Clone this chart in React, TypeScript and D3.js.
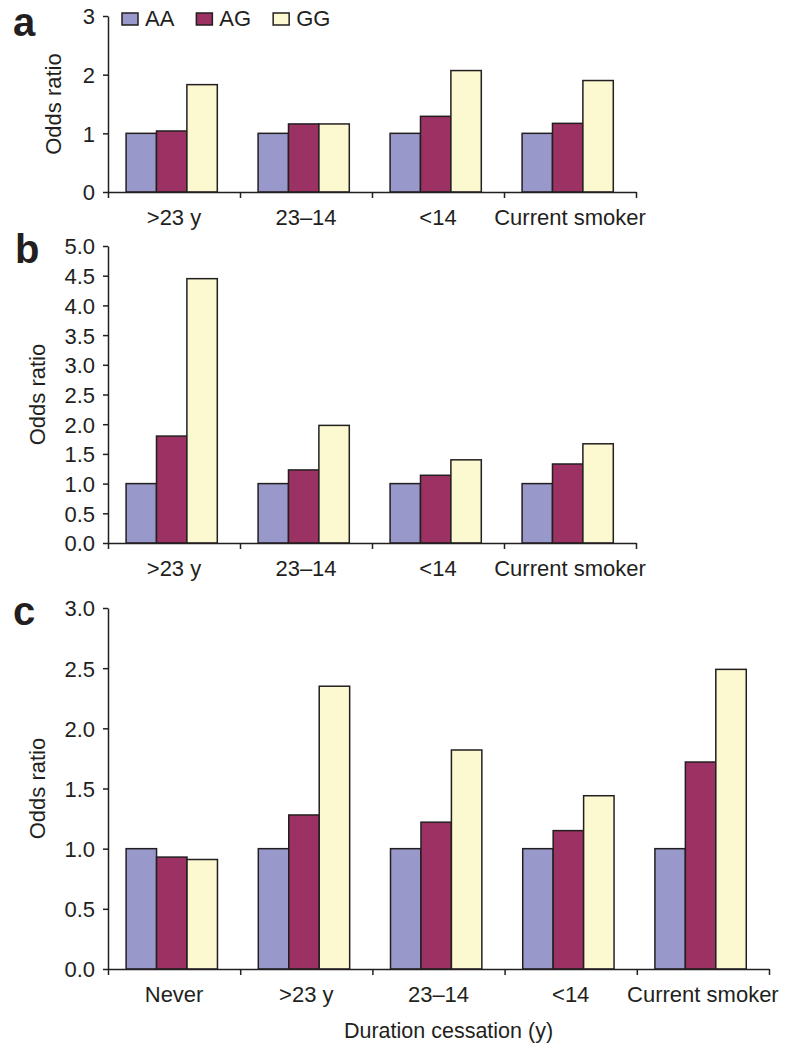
import { useEffect, useRef } from 'react';
import * as d3 from 'd3';

const SERIES = ['AA', 'AG', 'GG'];
const COLORS = ['#9898cb', '#9c3163', '#fcf8cf'];

// panel a
const CATS_A = ['>23 y', '23–14', '<14', 'Current smoker'];
const AA_A = [1.0, 1.0, 1.0, 1.0];
const AG_A = [1.04, 1.16, 1.29, 1.17];
const GG_A = [1.83, 1.16, 2.07, 1.9];
const TICKS_A = [0, 1, 2, 3];

// panel b
const CATS_B = ['>23 y', '23–14', '<14', 'Current smoker'];
const AA_B = [1.0, 1.0, 1.0, 1.0];
const AG_B = [1.8, 1.23, 1.14, 1.33];
const GG_B = [4.45, 1.98, 1.4, 1.67];
const TICKS_B = [0, 0.5, 1, 1.5, 2, 2.5, 3, 3.5, 4, 4.5, 5];

// panel c
const CATS_C = ['Never', '>23 y', '23–14', '<14', 'Current smoker'];
const AA_C = [1.0, 1.0, 1.0, 1.0, 1.0];
const AG_C = [0.93, 1.28, 1.22, 1.15, 1.72];
const GG_C = [0.91, 2.35, 1.82, 1.44, 2.49];
const TICKS_C = [0, 0.5, 1, 1.5, 2, 2.5, 3];

const WIDTH = 797;
const HEIGHT = 1050;
const INK = '#231f20';
const FONT = '"Liberation Sans", Arial, Helvetica, sans-serif';
const FS = 22;

const PANELS = [
  { letter: 'a', cats: CATS_A, values: [AA_A, AG_A, GG_A], ticks: TICKS_A, fmt: d3.format('d'),
    top: 16, bottom: 192, left: 108, right: 636, letterPos: [13, 36], yLabelX: 61, legend: true },
  { letter: 'b', cats: CATS_B, values: [AA_B, AG_B, GG_B], ticks: TICKS_B, fmt: d3.format('.1f'),
    top: 246, bottom: 543, left: 108, right: 636, letterPos: [15, 263], yLabelX: 45, legend: false },
  { letter: 'c', cats: CATS_C, values: [AA_C, AG_C, GG_C], ticks: TICKS_C, fmt: d3.format('.1f'),
    top: 608, bottom: 969, left: 108, right: 769, letterPos: [13, 625], yLabelX: 45, legend: false,
    xTitle: 'Duration cessation (y)' },
];

export default function App() {
  const svgRef = useRef<SVGSVGElement>(null);

  useEffect(() => {
    const svg = d3.select(svgRef.current);
    svg.selectAll('*').remove();
    svg.style('font-family', FONT);

    for (const p of PANELS) {
      const w = p.right - p.left;
      const g = svg.append('g').attr('transform', `translate(${p.left},0)`);

      const y = d3
        .scaleLinear()
        .domain([0, p.ticks[p.ticks.length - 1]])
        .range([p.bottom, p.top]);

      const x0 = d3.scaleBand<string>().domain(p.cats).range([0, w]).padding(0);
      const bw = x0.bandwidth();
      // the three bars of a group sit a little left of the band centre
      const x1 = d3
        .scaleBand<string>()
        .domain(SERIES)
        .range([bw * 0.137, bw * 0.828])
        .padding(0);

      // Bars ---------------------------------------------------------------
      const rows = p.cats.flatMap((cat, ci) =>
        SERIES.map((s, si) => ({ cat, s, si, v: p.values[si][ci] })),
      );
      g.selectAll('rect.bar')
        .data(rows)
        .join('rect')
        .attr('class', 'bar')
        .attr('x', (d) => x0(d.cat)! + x1(d.s)!)
        .attr('y', (d) => y(d.v))
        .attr('width', x1.bandwidth())
        .attr('height', (d) => y(0) - y(d.v))
        .attr('fill', (d) => COLORS[d.si])
        .attr('stroke', INK)
        .attr('stroke-width', 1.5);

      // Y axis -------------------------------------------------------------
      const yAxis = d3
        .axisLeft(y)
        .tickValues(p.ticks)
        .tickFormat((v) => p.fmt(v as number))
        .tickSize(5)
        .tickSizeOuter(0)
        .tickPadding(8);
      g.append('g')
        .call(yAxis)
        .call((sel) => sel.selectAll('path,line').attr('stroke', INK).attr('stroke-width', 1.5))
        .selectAll('text')
        .attr('font-family', FONT)
        .attr('font-size', FS)
        .attr('fill', INK)
        .attr('dy', '0.36em');

      // X axis: ticks at category boundaries ---------------------------------
      const xb = d3.scaleLinear().domain([0, p.cats.length]).range([0, w]);
      g.append('g')
        .attr('transform', `translate(0,${p.bottom})`)
        .call(
          d3.axisBottom(xb)
            .tickValues(d3.range(p.cats.length + 1))
            .tickFormat(() => '')
            .tickSize(6)
            .tickSizeOuter(0),
        )
        .call((sel) => sel.selectAll('path,line').attr('stroke', INK).attr('stroke-width', 1.5));

      g.selectAll('text.cat')
        .data(p.cats)
        .join('text')
        .attr('class', 'cat')
        .attr('x', (c) => x0(c)! + bw / 2)
        .attr('y', p.bottom + 33)
        .attr('text-anchor', 'middle')
        .attr('font-size', FS)
        .attr('fill', INK)
        .text((c) => c);

      if (p.xTitle) {
        g.append('text')
          .attr('x', w / 2 + 10)
          .attr('y', p.bottom + 69)
          .attr('text-anchor', 'middle')
          .attr('font-size', 21.5)
          .attr('fill', INK)
          .text(p.xTitle);
      }

      // Y label --------------------------------------------------------------
      svg.append('text')
        .attr('transform', `translate(${p.yLabelX},${(p.top + p.bottom) / 2}) rotate(-90)`)
        .attr('text-anchor', 'middle')
        .attr('font-size', FS)
        .attr('fill', INK)
        .text('Odds ratio');

      // Panel letter -----------------------------------------------------------
      svg.append('text')
        .attr('x', p.letterPos[0])
        .attr('y', p.letterPos[1])
        .attr('font-size', 40)
        .attr('font-weight', 'bold')
        .attr('fill', INK)
        .text(p.letter);

      // Legend ---------------------------------------------------------------
      if (p.legend) {
        const legend = svg.append('g').attr('transform', `translate(122,${p.top - 3})`);
        let cursor = 0;
        SERIES.forEach((s, i) => {
          const item = legend.append('g').attr('transform', `translate(${cursor},0)`);
          item.append('rect')
            .attr('width', 16)
            .attr('height', 12)
            .attr('fill', COLORS[i])
            .attr('stroke', INK)
            .attr('stroke-width', 1.5);
          const t = item.append('text')
            .attr('x', 23)
            .attr('y', 13)
            .attr('font-size', FS)
            .attr('fill', INK)
            .text(s);
          cursor += 23 + (t.node() as SVGTextElement).getComputedTextLength() + 22;
        });
      }
    }
  }, []);

  return (
    <svg
      ref={svgRef}
      width={WIDTH}
      height={HEIGHT}
      style={{ position: 'absolute', left: 0, top: 0, background: '#fff' }}
    />
  );
}
